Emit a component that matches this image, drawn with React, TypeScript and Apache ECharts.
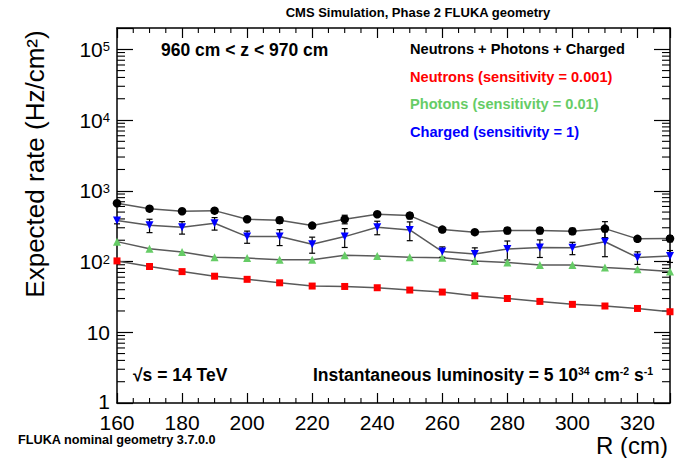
import React, { useEffect, useRef } from 'react';
import * as echarts from 'echarts';

// ---- data ----
const radii = [160, 170, 180, 190, 200, 210, 220, 230, 240, 250, 260, 270, 280, 290, 300, 310, 320, 330];
const totalRate = [667, 559, 514, 524, 396, 384, 322, 396, 466, 446, 283, 260, 274, 274, 268, 292, 209, 211];
const totalErr = [45, 40, 36, 37, 28, 38, 23, 55, 33, 45, 20, 18, 27, 27, 27, 74, 15, 21];
const neutronRate = [102, 85, 72, 62, 56, 50, 45, 44.4, 42.6, 39.5, 37, 32.8, 30, 27.3, 24.8, 23.5, 21.7, 19.5];
const photonRate = [191, 151, 136, 115, 112, 106, 106, 123, 120, 115, 113, 102, 97, 89, 89, 82, 78, 72];
const chargedRate = [379, 326, 305, 348, 225, 225, 176, 225, 305, 280, 138, 128, 150, 158, 156, 190, 114, 120];
const chargedErr = [38, 70, 61, 70, 44, 57, 45, 67, 66, 83, 23, 28, 45, 44, 31, 73, 23, 23];

const xMin = 160;
const xMax = 330;
const xInterval = 20;
const yMin = 1;
const yMax = 2e5;

const titleText = 'CMS Simulation, Phase 2 FLUKA geometry';
const zRangeText = '960 cm < z < 970 cm';
const legendTexts = [
  'Neutrons + Photons + Charged',
  'Neutrons (sensitivity = 0.001)',
  'Photons (sensitivity = 0.01)',
  'Charged (sensitivity = 1)',
];
const energyText = '√s = 14 TeV';
const lumiText = '{b|Instantaneous luminosity = 5 10}{s|34}{b| cm}{s|-2}{b| s}{s|-1}';
const footText = 'FLUKA nominal geometry 3.7.0.0';
const xTitle = 'R (cm)';
const yTitle = 'Expected rate (Hz/cm²)';

const COLORS = { total: '#000000', neutron: '#ff0000', photon: '#66cc66', charged: '#0000ff' };

const SANS = "'Liberation Sans', Arial, Helvetica, sans-serif";

function pairs(vals: number[]) {
  return radii.map((r, i) => [r, vals[i]]);
}
function errPairs(vals: number[], errs: number[]) {
  return radii.map((r, i) => [r, vals[i], errs[i]]);
}

function label(x: number, y: number, text: string, size: number, color: string, align = 'left', weight = 'bold') {
  return {
    type: 'text', x, y, silent: true,
    style: { text, fontSize: size, fontWeight: weight, fontFamily: SANS, fill: color, textAlign: align, textVerticalAlign: 'middle' },
  };
}

export default function App() {
  const ref = useRef<HTMLDivElement>(null);

  useEffect(() => {
    if (!ref.current) return;
    const chart = echarts.init(ref.current, undefined, { renderer: 'svg' });

    // minor tick positions (axis decoration)
    const xMinor: number[][] = [];
    for (let v = xMin + 5; v < xMax; v += 5) if (v % xInterval !== 0) xMinor.push([v, yMin]);
    const yMinor: number[][] = [];
    for (let k = 0; k <= 5; k++) for (let m = 2; m <= 9; m++) {
      const v = m * Math.pow(10, k);
      if (v < yMax) yMinor.push([xMin, v]);
    }

    const axisLine = { show: true, onZero: false, lineStyle: { color: '#000', width: 1.5 } };
    const xTick = { show: true, inside: true, length: 10, lineStyle: { color: '#000', width: 1.2 } };
    const yTick = { show: true, inside: true, length: 16, lineStyle: { color: '#000', width: 1.2 } };

    const errSeries = (name: string, vals: number[], errs: number[]) => ({
      type: 'custom',
      name,
      z: 3,
      silent: true,
      data: errPairs(vals, errs),
      encode: { x: 0, y: 1 },
      renderItem: (params: any, api: any) => {
        const x = api.value(0);
        const v = api.value(1);
        const e = api.value(2);
        const hi = api.coord([x, v + e]);
        const lo = api.coord([x, Math.max(v - e, yMin)]);
        const cw = 3;
        const st = { stroke: '#000', lineWidth: 1.2 };
        return {
          type: 'group',
          children: [
            { type: 'line', shape: { x1: hi[0], y1: hi[1], x2: lo[0], y2: lo[1] }, style: st },
            { type: 'line', shape: { x1: hi[0] - cw, y1: hi[1], x2: hi[0] + cw, y2: hi[1] }, style: st },
            { type: 'line', shape: { x1: lo[0] - cw, y1: lo[1], x2: lo[0] + cw, y2: lo[1] }, style: st },
          ],
        };
      },
    });

    const lineSeries = (vals: number[]) => ({
      type: 'line',
      data: pairs(vals),
      symbol: 'none',
      showSymbol: false,
      silent: true,
      z: 2,
      lineStyle: { color: '#5a5a5a', width: 1.5 },
    });

    const markSeries = (vals: number[], symbol: string, size: number, color: string, rotate = 0) => ({
      type: 'scatter',
      data: pairs(vals),
      symbol,
      symbolSize: size,
      symbolRotate: rotate,
      silent: true,
      z: 4,
      itemStyle: { color, opacity: 1 },
    });

    const option: any = {
      animation: false,
      backgroundColor: '#ffffff',
      grid: { left: 117, right: 7, top: 28, bottom: 55, containLabel: false },
      xAxis: [
        {
          type: 'value', min: xMin, max: xMax, interval: xInterval, position: 'bottom',
          axisLine, axisTick: xTick, splitLine: { show: false },
          axisLabel: {
            show: true, margin: 9, fontSize: 21, lineHeight: 20, color: '#000', fontFamily: SANS,
            formatter: (v: number) => (Math.abs(v % xInterval) < 1e-6 && v < xMax ? String(v) : ''),
          },
        },
        {
          type: 'value', min: xMin, max: xMax, interval: xInterval, position: 'top',
          axisLine, axisTick: xTick, splitLine: { show: false }, axisLabel: { show: false },
        },
      ],
      yAxis: [
        {
          type: 'log', logBase: 10, min: yMin, max: yMax, position: 'left',
          axisLine, axisTick: yTick, splitLine: { show: false },
          axisLabel: {
            show: true, margin: 7,
            formatter: (v: number) => {
              const e = Math.log10(v);
              const r = Math.round(e);
              if (Math.abs(e - r) > 1e-6) return '';
              if (r === 0) return '{o|1}';
              if (r === 1) return '{a|10}';
              return `{a|10}{s|${r}}`;
            },
            rich: {
              a: { fontSize: 21, fontFamily: SANS, color: '#000', lineHeight: 18 },
              o: { fontSize: 21, fontFamily: SANS, color: '#000', lineHeight: 18, padding: [0, 0, 4, 0] },
              s: { fontSize: 13, fontFamily: SANS, color: '#000', lineHeight: 12, verticalAlign: 'top' },
            },
          },
        },
        {
          type: 'log', logBase: 10, min: yMin, max: yMax, position: 'right',
          axisLine, axisTick: yTick, splitLine: { show: false }, axisLabel: { show: false },
        },
      ],
      series: [
        {
          type: 'custom', z: 1, silent: true, data: xMinor, encode: { x: 0, y: 1 },
          renderItem: (params: any, api: any) => {
            const v = api.value(0);
            const b = api.coord([v, yMin]);
            const t = api.coord([v, yMax]);
            const st = { stroke: '#000', lineWidth: 1.1 };
            return {
              type: 'group', children: [
                { type: 'line', shape: { x1: b[0], y1: b[1], x2: b[0], y2: b[1] - 5 }, style: st },
                { type: 'line', shape: { x1: t[0], y1: t[1], x2: t[0], y2: t[1] + 5 }, style: st },
              ],
            };
          },
        },
        {
          type: 'custom', z: 1, silent: true, data: yMinor, encode: { x: 0, y: 1 },
          renderItem: (params: any, api: any) => {
            const v = api.value(1);
            const l = api.coord([xMin, v]);
            const r = api.coord([xMax, v]);
            const st = { stroke: '#000', lineWidth: 1.1 };
            return {
              type: 'group', children: [
                { type: 'line', shape: { x1: l[0], y1: l[1], x2: l[0] + 8, y2: l[1] }, style: st },
                { type: 'line', shape: { x1: r[0], y1: r[1], x2: r[0] - 8, y2: r[1] }, style: st },
              ],
            };
          },
        },
        lineSeries(totalRate),
        lineSeries(chargedRate),
        lineSeries(photonRate),
        lineSeries(neutronRate),
        errSeries('totalErr', totalRate, totalErr),
        errSeries('chargedErr', chargedRate, chargedErr),
        markSeries(totalRate, 'circle', 8.5, COLORS.total),
        markSeries(neutronRate, 'rect', 7, COLORS.neutron),
        markSeries(photonRate, 'triangle', 8, COLORS.photon),
        markSeries(chargedRate, 'triangle', 8, COLORS.charged, 180),
      ],
      graphic: [
        label(418, 12, titleText, 13, '#000', 'center'),
        label(161, 50, zRangeText, 17.5, '#000'),
        label(410, 49, legendTexts[0], 14.6, COLORS.total),
        label(410, 77, legendTexts[1], 14.6, COLORS.neutron),
        label(410, 104, legendTexts[2], 14.6, COLORS.photon),
        label(410, 132, legendTexts[3], 14.6, COLORS.charged),
        label(133, 375, energyText, 17.5, '#000'),
        {
          type: 'text', x: 653, y: 375, silent: true,
          style: {
            text: lumiText, textAlign: 'right', textVerticalAlign: 'middle', fill: '#000',
            rich: {
              b: { fontSize: 17.5, fontWeight: 'bold', fontFamily: SANS, fill: '#000', lineHeight: 20 },
              s: { fontSize: 10.5, fontWeight: 'bold', fontFamily: SANS, fill: '#000', lineHeight: 12, verticalAlign: 'top' },
            },
          },
        },
        label(18, 440, footText, 12.7, '#000'),
        label(668, 445, xTitle, 24, '#000', 'right', 'normal'),
        {
          type: 'text', x: 35, y: 164, rotation: Math.PI / 2, silent: true,
          style: { text: yTitle, fontSize: 26, fontFamily: SANS, fill: '#000', textAlign: 'center', textVerticalAlign: 'middle' },
        },
      ],
    };

    chart.setOption(option);
    return () => chart.dispose();
  }, []);

  return (
    <div
      ref={ref}
      style={{ position: 'absolute', left: 0, top: 0, width: 677, height: 458, background: '#fff' }}
    />
  );
}
